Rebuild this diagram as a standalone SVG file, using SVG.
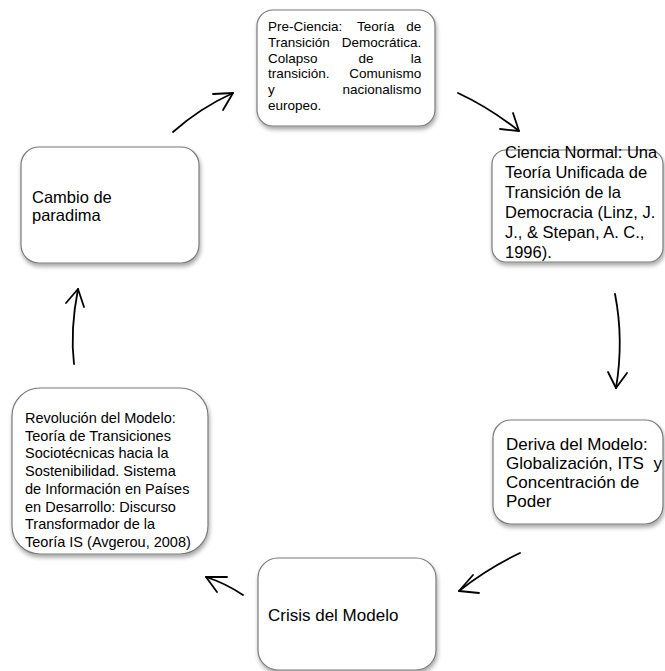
<svg xmlns="http://www.w3.org/2000/svg" width="665" height="671" viewBox="0 0 665 671">
<defs>
<filter id="sh" x="-10%" y="-10%" width="125%" height="130%">
<feDropShadow dx="1" dy="3" stdDeviation="2" flood-color="#000" flood-opacity="0.35"/>
</filter>
</defs>
<style>
.box{fill:#fff;stroke:#7a7a7a;stroke-width:1.2;filter:url(#sh)}
.t{font-family:"Liberation Sans",Arial,sans-serif;fill:#000}
.c{fill:none;stroke:#000;stroke-width:1.8;stroke-linecap:round;stroke-linejoin:round}
</style>
<rect width="665" height="671" fill="#fff"/>
<g id="connectors">
<path class="c" d="M173,132 Q200,108 233,93"/>
<path class="c" d="M213,94 L233,93 L223,110"/>
<path class="c" d="M458,93 Q490,108 519,131"/>
<path class="c" d="M500,129 L519,131 L513,113"/>
<path class="c" d="M615,294 Q624,340 616,388"/>
<path class="c" d="M608,372 L616,388 L627,373"/>
<path class="c" d="M520,553 Q488,568 459,591"/>
<path class="c" d="M473,575 L459,591 L479,593"/>
<path class="c" d="M243,595 Q225,583 206,577"/>
<path class="c" d="M227,577 L206,577 L217,592"/>
<path class="c" d="M74,364 Q70,330 78,289"/>
<path class="c" d="M66,303 L78,289 L84,307"/>
</g>
<g id="pre-ciencia">
<rect class="box" x="257" y="10" width="178" height="116" rx="16"/>
<text class="t" font-size="13.5">
<tspan x="268" y="31">Pre-Ciencia:</tspan><tspan x="357" y="31">Teoría</tspan><tspan x="425" y="31" text-anchor="end">de</tspan>
<tspan x="268" y="46.8">Transición</tspan><tspan x="425" y="46.8" text-anchor="end">Democrática.</tspan>
<tspan x="268" y="62.6">Colapso</tspan><tspan x="358.5" y="62.6">de</tspan><tspan x="425" y="62.6" text-anchor="end">la</tspan>
<tspan x="268" y="78.4">transición.</tspan><tspan x="425" y="78.4" text-anchor="end">Comunismo</tspan>
<tspan x="268" y="94.2">y</tspan><tspan x="425" y="94.2" text-anchor="end">nacionalismo</tspan>
<tspan x="268" y="110">europeo.</tspan>
</text>
</g>
<g id="ciencia-normal">
<rect class="box" x="492" y="150" width="171" height="112" rx="14"/>
<text class="t" font-size="16.5">
<tspan x="505" y="158">Ciencia Normal: Una</tspan>
<tspan x="505" y="178">Teoría Unificada de</tspan>
<tspan x="505" y="198">Transición de la</tspan>
<tspan x="505" y="218">Democracia (Linz, J.</tspan>
<tspan x="505" y="238">J., &amp; Stepan, A. C.,</tspan>
<tspan x="505" y="258">1996).</tspan>
</text>
</g>
<g id="deriva">
<rect class="box" x="493" y="420" width="170" height="104" rx="18"/>
<text class="t" font-size="17">
<tspan x="506" y="450">Deriva del Modelo:</tspan>
<tspan x="506" y="469" style="white-space:pre">Globalización, ITS  y</tspan>
<tspan x="506" y="488">Concentración de</tspan>
<tspan x="506" y="507">Poder</tspan>
</text>
</g>
<g id="crisis">
<rect class="box" x="258" y="558" width="178" height="112" rx="20"/>
<text class="t" font-size="17" x="268" y="621">Crisis del Modelo</text>
</g>
<g id="revolucion">
<rect class="box" x="12" y="388" width="196" height="166" rx="28"/>
<text class="t" font-size="14.5">
<tspan x="25" y="423">Revolución del Modelo:</tspan>
<tspan x="25" y="440.7">Teoría de Transiciones</tspan>
<tspan x="25" y="458.4">Sociotécnicas hacia la</tspan>
<tspan x="25" y="476.1">Sostenibilidad. Sistema</tspan>
<tspan x="25" y="493.8">de Información en Países</tspan>
<tspan x="25" y="511.5">en Desarrollo: Discurso</tspan>
<tspan x="25" y="529.2">Transformador de la</tspan>
<tspan x="25" y="546.9">Teoría IS (Avgerou, 2008)</tspan>
</text>
</g>
<g id="cambio">
<rect class="box" x="21" y="147" width="178" height="116" rx="18"/>
<text class="t" font-size="16.5">
<tspan x="32" y="203">Cambio de</tspan>
<tspan x="32" y="221">paradima</tspan>
</text>
</g>
</svg>
